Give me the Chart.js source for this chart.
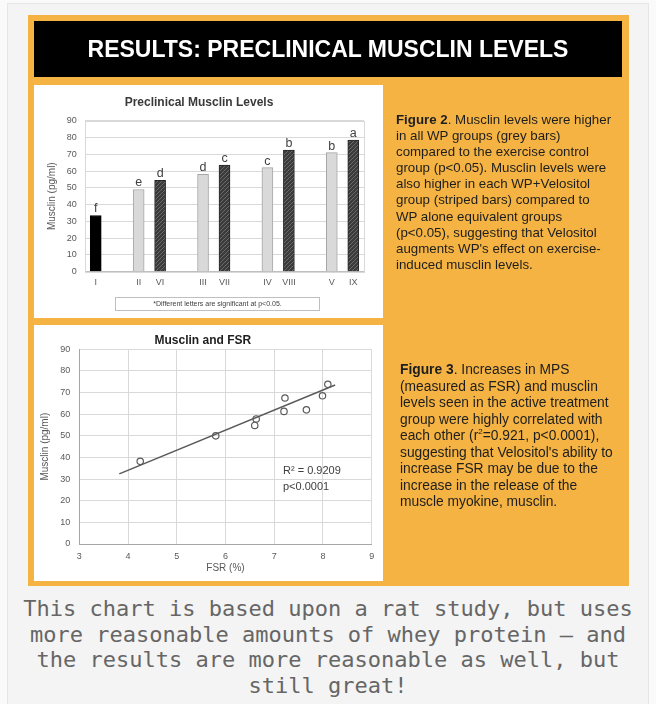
<!DOCTYPE html>
<html><head><meta charset="utf-8">
<script src="https://cdn.jsdelivr.net/npm/chart.js@4.4.0/dist/chart.umd.min.js"></script>
<style>
html,body{margin:0;padding:0;background:#fafafa;width:656px;height:704px;overflow:hidden;position:relative;}
#card{position:absolute;left:7px;top:3px;width:642px;height:720px;background:#f4f4f4;border:1px solid #e6e6e6;box-sizing:border-box;}
#poster{position:absolute;left:28px;top:15px;width:601px;height:571px;background:#f4b342;}
.soft{filter:blur(0.45px);}
#header{position:absolute;left:34px;top:21px;width:588px;height:56px;background:#000;color:#fff;font:bold 23px "Liberation Sans",Arial,sans-serif;line-height:56px;text-align:center;white-space:nowrap;}
.box{position:absolute;background:#fff;}
#barBox{left:34px;top:85px;width:349px;height:233px;}
#scBox{left:34px;top:325px;width:349px;height:256px;}
.box canvas{position:absolute;left:0;top:0;}
.fig{position:absolute;font-family:"Liberation Sans",Arial,sans-serif;color:#1e1e1e;white-space:nowrap;}
#fig2{left:396px;top:112px;font-size:13.3px;line-height:16.1px;}
#fig3{left:400px;top:362px;font-size:13.8px;line-height:16.5px;}
#note{position:absolute;left:115px;top:297px;width:205px;height:14px;border:1px solid #bfbfbf;box-sizing:border-box;font:7px "Liberation Sans",Arial,sans-serif;line-height:12px;text-align:center;color:#404040;background:#fff;white-space:nowrap;}
#caption{position:absolute;left:18px;top:596px;width:620px;text-align:center;font:22px "DejaVu Sans Mono",monospace;line-height:25.5px;color:#666;}
</style>
</head>
<body>
<div id="card"></div>
<div id="poster"></div>
<div id="header" class="soft">RESULTS: PRECLINICAL MUSCLIN LEVELS</div>
<div class="box soft" id="barBox"><canvas id="bar" width="349" height="233"></canvas></div>
<div id="note" class="soft">*Different letters are significant at p&lt;0.05.</div>
<div class="box soft" id="scBox"><canvas id="sc" width="349" height="256"></canvas></div>
<div class="fig soft" id="fig2"><b>Figure 2</b>. Musclin levels were higher<br>in all WP groups (grey bars)<br>compared to the exercise control<br>group (p&lt;0.05). Musclin levels were<br>also higher in each WP+Velositol<br>group (striped bars) compared to<br>WP alone equivalent groups<br>(p&lt;0.05), suggesting that Velositol<br>augments WP's effect on exercise-<br>induced musclin levels.</div>
<div class="fig soft" id="fig3"><b>Figure 3</b>. Increases in MPS<br>(measured as FSR) and musclin<br>levels seen in the active treatment<br>group were highly correlated with<br>each other (r<sup style="font-size:8px;line-height:0">2</sup>=0.921, p&lt;0.0001),<br>suggesting that Velositol's ability to<br>increase FSR may be due to the<br>increase in the release of the<br>muscle myokine, musclin.</div>
<div id="caption">This chart is based upon a rat study, but uses more reasonable amounts of whey protein — and the results are more reasonable as well, but still great!</div>
<script>
// ---- Bar chart data ----
const barCategories = ['I','','II','VI','','III','VII','','IV','VIII','','V','IX'];
const barValues     = [33.5,null,49,54.5,null,58,63.5,null,62,72.5,null,71,78.5];
const barLetters    = ['f','','e','d','','d','c','','c','b','','b','a'];
const barGroups     = ['control','','wp','wpv','','wp','wpv','','wp','wpv','','wp','wpv'];
const yTickMin = 0, yTickMax = 90, yTickStep = 10;

// ---- Scatter data ----
const fsrValues     = [4.25, 5.80, 6.60, 6.63, 7.20, 7.22, 7.66, 7.99, 8.10];
const musclinValues = [38.2, 50.0, 54.8, 57.8, 61.3, 67.5, 62.0, 68.5, 73.8];
const trendFsr      = [3.82, 8.25];
const trendMusclin  = [32.4, 73.5];
const fsrTickMin = 3, fsrTickMax = 9, fsrTickStep = 1;
const statLines  = ['R\u00B2 = 0.9209', 'p<0.0001'];
const statAnchor = {x: 7.18, y: 33.9};

const FONT = '"Liberation Sans", Arial, sans-serif';

function stripePattern(){
  const c = document.createElement('canvas'); c.width = 4; c.height = 4;
  const g = c.getContext('2d');
  g.fillStyle = '#3b3b3b'; g.fillRect(0,0,4,4);
  g.strokeStyle = '#6a6a6a'; g.lineWidth = 1;
  g.beginPath();
  g.moveTo(-1,1); g.lineTo(1,-1);
  g.moveTo(0,4); g.lineTo(4,0);
  g.moveTo(3,5); g.lineTo(5,3);
  g.stroke();
  return g.createPattern(c,'repeat');
}
const stripes = stripePattern();
const fillFor   = {control:'#000000', wp:'#d9d9d9', wpv:stripes, '':'rgba(0,0,0,0)'};
const borderFor = {control:'#000000', wp:'#a6a6a6', wpv:'#262626', '':'rgba(0,0,0,0)'};

const framePlugin = {
  id:'frame',
  beforeDatasetsDraw(chart){
    const a = chart.chartArea, ctx = chart.ctx;
    ctx.save(); ctx.strokeStyle = '#d9d9d9'; ctx.lineWidth = 1;
    ctx.strokeRect(Math.round(a.left)+0.5, Math.round(a.top)+0.5, Math.round(a.right-a.left), Math.round(a.bottom-a.top));
    ctx.restore();
  }
};
const letterPlugin = {
  id:'letters',
  afterDatasetsDraw(chart){
    const meta = chart.getDatasetMeta(0), ctx = chart.ctx;
    ctx.save(); ctx.font = '12.5px ' + FONT; ctx.fillStyle = '#404040';
    ctx.textAlign = 'center'; ctx.textBaseline = 'alphabetic';
    meta.data.forEach((bar,i) => {
      if (barValues[i] == null) return;
      ctx.fillText(barLetters[i], bar.x, bar.y - 3);
    });
    ctx.restore();
  }
};

new Chart(document.getElementById('bar'), {
  type:'bar',
  data:{
    labels: barCategories,
    datasets:[{
      data: barValues,
      backgroundColor: barGroups.map(g => fillFor[g]),
      borderColor: barGroups.map(g => borderFor[g]),
      borderWidth: 1,
      barThickness: 11
    }]
  },
  options:{
    responsive:false, animation:false, devicePixelRatio:1,
    layout:{padding:{left:0,right:19,top:0,bottom:0}},
    plugins:{
      legend:{display:false}, tooltip:{enabled:false},
      title:{display:true, text:'Preclinical Musclin Levels', color:'#3a3a3a',
        font:{family:FONT, size:12, weight:'bold'}, padding:{top:10.8,bottom:10.5}}
    },
    scales:{
      x:{
        grid:{display:false, drawTicks:false},
        border:{display:true, color:'#bfbfbf'},
        ticks:{font:{family:FONT,size:9}, color:'#595959', padding:5.9, autoSkip:false, maxRotation:0},
        afterFit(s){ s.height = 46.3; }
      },
      y:{
        min:yTickMin, max:yTickMax,
        ticks:{stepSize:yTickStep, font:{family:FONT,size:9}, color:'#595959', padding:8.3},
        grid:{color:'#d9d9d9', drawTicks:false},
        border:{display:false},
        title:{display:true, text:'Musclin (pg/ml)', color:'#595959', font:{family:FONT,size:10}, padding:{top:12.7,bottom:0}},
        afterFit(s){ s.width = 51; }
      }
    }
  },
  plugins:[framePlugin, letterPlugin]
});

const statPlugin = {
  id:'stats',
  afterDatasetsDraw(chart){
    const ctx = chart.ctx, xs = chart.scales.x, ys = chart.scales.y;
    const px = xs.getPixelForValue(statAnchor.x), py = ys.getPixelForValue(statAnchor.y);
    ctx.save(); ctx.font = '11px ' + FONT; ctx.fillStyle = '#404040';
    ctx.textAlign = 'left'; ctx.textBaseline = 'middle';
    statLines.forEach((t,i) => ctx.fillText(t, px, py + i*16));
    ctx.restore();
  }
};

new Chart(document.getElementById('sc'), {
  type:'scatter',
  data:{
    datasets:[
      {
        data: fsrValues.map((x,i) => ({x, y: musclinValues[i]})),
        pointRadius:3.2, pointBackgroundColor:'rgba(0,0,0,0)',
        pointBorderColor:'#5a5a5a', pointBorderWidth:1.2, showLine:false
      },
      {
        data: trendFsr.map((x,i) => ({x, y: trendMusclin[i]})),
        showLine:true, borderColor:'#5a5a5a', borderWidth:1.5, pointRadius:0, fill:false
      }
    ]
  },
  options:{
    responsive:false, animation:false, devicePixelRatio:1,
    layout:{padding:{left:0,right:11.3,top:0,bottom:0}},
    plugins:{
      legend:{display:false}, tooltip:{enabled:false},
      title:{display:true, text:'Musclin and FSR', color:'#1e1e1e',
        font:{family:FONT, size:12, weight:'bold'}, padding:{top:8.5,bottom:1.4}}
    },
    scales:{
      x:{
        type:'linear', min:fsrTickMin, max:fsrTickMax,
        grid:{color:'#d9d9d9', drawTicks:false},
        border:{display:true, color:'#a6a6a6'},
        ticks:{stepSize:fsrTickStep, font:{family:FONT,size:9}, color:'#595959', padding:6.9},
        title:{display:true, text:'FSR (%)', color:'#595959', font:{family:FONT,size:10}, padding:{top:0,bottom:6.7}},
        afterFit(s){ s.height = 37; }
      },
      y:{
        min:yTickMin, max:yTickMax,
        grid:{color:'#d9d9d9', drawTicks:false},
        border:{display:true, color:'#a6a6a6'},
        ticks:{stepSize:yTickStep, font:{family:FONT,size:9}, color:'#595959', padding:9},
        title:{display:true, text:'Musclin (pg/ml)', color:'#595959', font:{family:FONT,size:10}, padding:{top:5.0,bottom:0}},
        afterFit(s){ s.width = 45.3; }
      }
    }
  },
  plugins:[statPlugin]
});
</script>
</body></html>
